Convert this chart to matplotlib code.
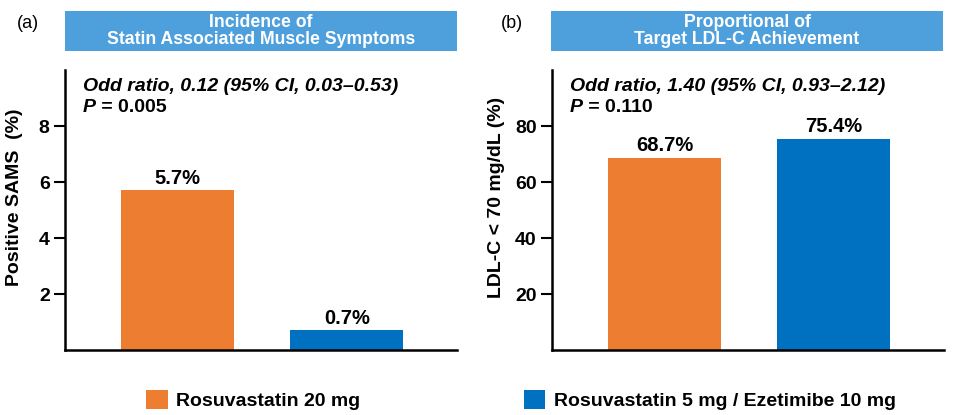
import matplotlib
matplotlib.use('Agg')
import matplotlib.pyplot as plt
from matplotlib.patches import Rectangle

plt.rcParams['font.family'] = ['Liberation Sans', 'DejaVu Sans']

groups = ['Rosuvastatin 20 mg', 'Rosuvastatin 5 mg / Ezetimibe 10 mg']
sams = [5.7, 0.7]
ldl = [68.7, 75.4]
sams_labels = ['5.7%', '0.7%']
ldl_labels = ['68.7%', '75.4%']
colors = ['#ED7D31', '#0070C0']
box_color = '#4EA0DC'

fig = plt.figure(figsize=(9.6, 4.15), dpi=100)
W, H = 960, 415

def fig_rect(x0, y0, x1, y1):
    # pixel box -> figure fraction [l, b, w, h]
    return [x0 / W, 1 - y1 / H, (x1 - x0) / W, (y1 - y0) / H]

panels = [
    dict(ax=fig_rect(65, 70, 457, 350), vals=sams, labels=sams_labels, ylim=10, ticks=[2, 4, 6, 8],
         ylabel='Positive SAMS  (%)', title='Incidence of\nStatin Associated Muscle Symptoms',
         box=(65, 11, 457, 51), tag='(a)', tagx=28,
         odd='Odd ratio, 0.12 (95% CI, 0.03\u20130.53)', p=' = 0.005', ylx=15),
    dict(ax=fig_rect(552, 70, 944, 350), vals=ldl, labels=ldl_labels, ylim=100, ticks=[20, 40, 60, 80],
         ylabel='LDL-C < 70 mg/dL (%)', title='Proportional of\nTarget LDL-C Achievement',
         box=(551, 11, 943, 51), tag='(b)', tagx=512,
         odd='Odd ratio, 1.40 (95% CI, 0.93\u20132.12)', p=' = 0.110', ylx=496),
]

fs = 14
bars_for_legend = None
for pn in panels:
    ax = fig.add_axes(pn['ax'])
    bars = ax.bar([0, 1], pn['vals'], width=0.67, color=colors)
    bars_for_legend = bars
    ax.bar_label(bars, labels=pn['labels'], padding=2, fontsize=14.5, fontweight='bold')
    ax.set_xlim(-0.667, 1.652)
    ax.set_ylim(0, pn['ylim'])
    ax.set_yticks(pn['ticks'])
    ax.set_xticks([])
    for s in ['top', 'right']:
        ax.spines[s].set_visible(False)
    for s in ['left', 'bottom']:
        ax.spines[s].set_linewidth(1.8)
    ax.tick_params(axis='y', length=8, width=1.5, pad=3, labelsize=14)
    for t in ax.get_yticklabels():
        t.set_fontweight('bold')
    fig.text(pn['ylx'] / W, 1 - 197 / H, pn['ylabel'], rotation=90, ha='center', va='center',
             fontsize=fs, fontweight='bold')

    ax.text(0.046, 0.94, pn['odd'], transform=ax.transAxes, ha='left', va='center',
            fontsize=fs, fontweight='bold', style='italic')
    tp = ax.text(0.046, 0.865, 'P', transform=ax.transAxes, ha='left', va='center',
                 fontsize=fs, fontweight='bold', style='italic')
    ax.annotate(pn['p'], xy=(1, 0), xycoords=tp, ha='left', va='bottom',
                fontsize=fs, fontweight='bold')

    x0, y0, x1, y1 = pn['box']
    fig.patches.append(Rectangle((x0 / W, 1 - y1 / H), (x1 - x0) / W, (y1 - y0) / H,
                                 transform=fig.transFigure, facecolor=box_color,
                                 edgecolor='none', zorder=0))
    fig.text((x0 + x1) / 2 / W, 1 - (y0 + y1) / 2 / H, pn['title'], ha='center', va='center',
             color='white', fontsize=12.7, fontweight='bold', linespacing=1.0)
    fig.text(pn['tagx'] / W, 1 - 23 / H, pn['tag'], ha='center', va='center', fontsize=13)

fig.legend(bars_for_legend.patches, groups, loc='center', bbox_to_anchor=(521 / W, 1 - 400 / H),
           ncol=2, frameon=False, prop={'size': 14, 'weight': 'bold'},
           handlelength=1.1, handleheight=1.1, handletextpad=0.45, columnspacing=8.4)

fig.savefig('out.png', dpi=100)
